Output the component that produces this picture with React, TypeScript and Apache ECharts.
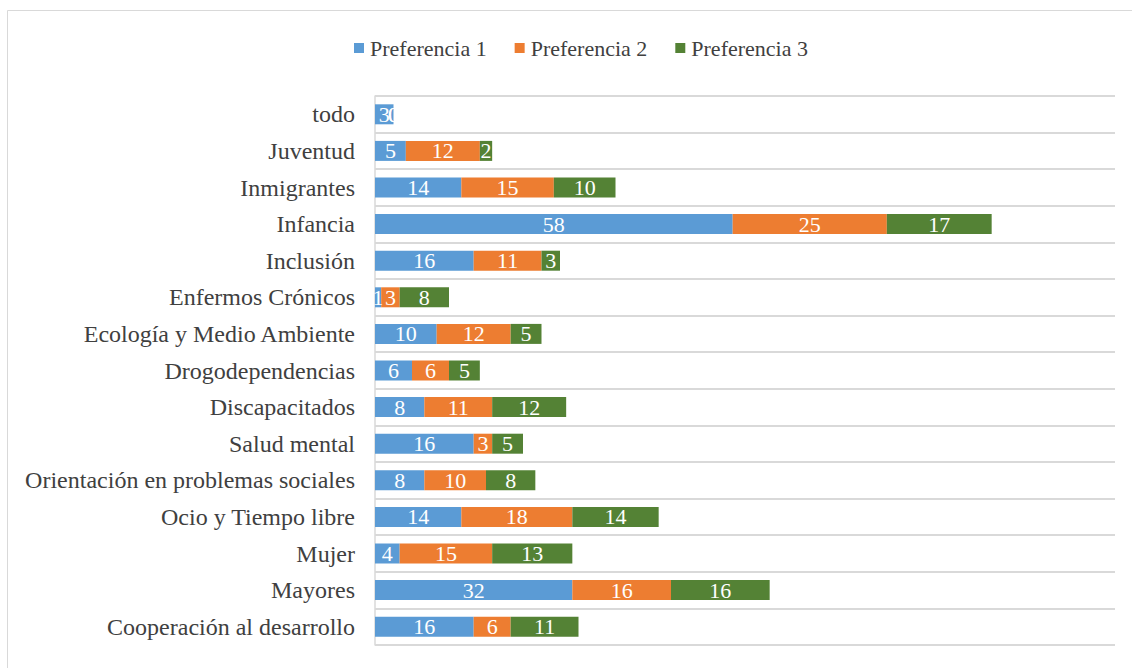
import React, { useEffect, useRef } from "react";
import * as echarts from "echarts";

const categories = [
  "Cooperación al desarrollo",
  "Mayores",
  "Mujer",
  "Ocio y Tiempo libre",
  "Orientación en problemas sociales",
  "Salud mental",
  "Discapacitados",
  "Drogodependencias",
  "Ecología y Medio Ambiente",
  "Enfermos Crónicos",
  "Inclusión",
  "Infancia",
  "Inmigrantes",
  "Juventud",
  "todo",
];
const pref1 = [16, 32, 4, 14, 8, 16, 8, 6, 10, 1, 16, 58, 14, 5, 3];
const pref2 = [6, 16, 15, 18, 10, 3, 11, 6, 12, 3, 11, 25, 15, 12, 0];
const pref3 = [11, 16, 13, 14, 8, 5, 12, 5, 5, 8, 3, 17, 10, 2, 0];
const seriesNames = ["Preferencia 1", "Preferencia 2", "Preferencia 3"];
const colors = ["#5b9bd5", "#ed7d31", "#548235"];

const FONT = "Times New Roman, Liberation Serif, DejaVu Serif, serif";

export default function App() {
  const ref = useRef<HTMLDivElement>(null);
  useEffect(() => {
    if (!ref.current) return;
    const chart = echarts.init(ref.current, null, { renderer: "svg" });
    const data = [pref1, pref2, pref3];
    chart.setOption({
      animation: false,
      backgroundColor: "#ffffff",
      textStyle: { fontFamily: FONT },
      graphic: [
        {
          type: "rect",
          shape: { x: 7.5, y: 10.5, width: 1200, height: 700 },
          style: { fill: "none", stroke: "#d9d9d9", lineWidth: 1 },
          silent: true,
        },
      ],
      legend: {
        left: 349,
        top: 32,
        itemWidth: 10,
        itemHeight: 10,
        itemGap: 28,
        icon: "rect",
        textStyle: { fontFamily: FONT, fontSize: 22, color: "#404040", padding: [0, 0, 0, 1] },
        data: seriesNames,
      },
      grid: { left: 375, right: 17, top: 96, bottom: 23, containLabel: false },
      xAxis: {
        type: "value",
        min: 0,
        max: 120,
        interval: 20,
        show: false,
        splitLine: { show: false },
      },
      yAxis: {
        type: "category",
        data: categories,
        axisLine: { show: true, lineStyle: { color: "#d9d9d9", width: 1.5 } },
        axisTick: { show: false },
        axisLabel: { fontFamily: FONT, fontSize: 24, color: "#404040", margin: 20 },
        splitLine: { show: true, lineStyle: { color: "#d9d9d9", width: 2 } },
      },
      series: data.map((d, i) => ({
        name: seriesNames[i],
        type: "bar",
        stack: "total",
        data: d,
        barWidth: 20,
        itemStyle: { color: colors[i] },
        label: {
          show: true,
          position: "inside",
          color: "#ffffff",
          fontFamily: FONT,
          fontSize: 22,
        },
      })),
    });
    return () => chart.dispose();
  }, []);
  return (
    <div
      ref={ref}
      style={{ position: "fixed", left: 0, top: 0, width: 1132, height: 668 }}
    />
  );
}
